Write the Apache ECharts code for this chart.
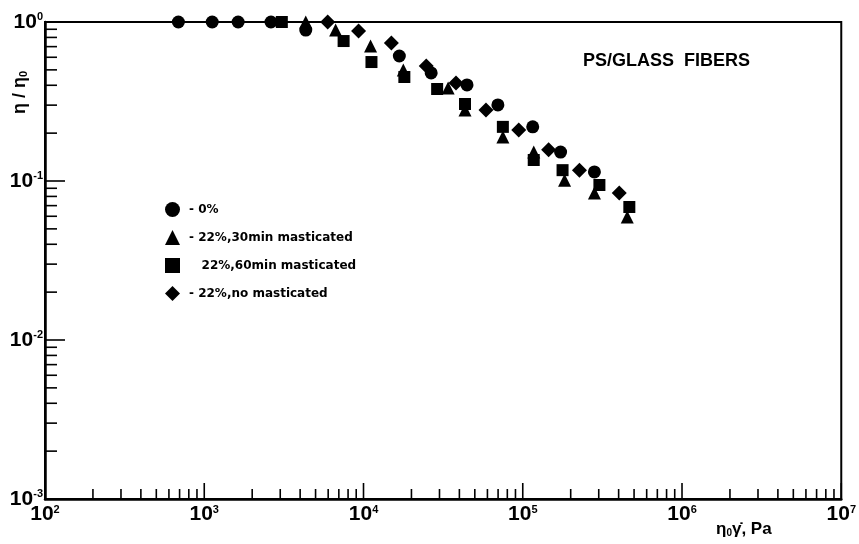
<!DOCTYPE html>
<html>
<head>
<meta charset="utf-8">
<script src="https://cdn.jsdelivr.net/npm/echarts@6/dist/echarts.min.js"></script>
<style>
  html, body { margin: 0; padding: 0; background: #fff; }
  #chart { width: 859px; height: 544px; }
</style>
</head>
<body>
<div id="chart"></div>
<script>
// Shear stress eta0*gammadot (Pa) vs reduced viscosity eta/eta0
const seriesNames = ['0%', '22%,30min masticated', '22%,60min masticated', '22%,no masticated'];
const legendLabels = ['- 0%', '- 22%,30min masticated', '   22%,60min masticated', '- 22%,no masticated'];

const data0 = [[688, 1.0], [1122, 1.0], [1632, 1.0], [2624, 1.0], [4340, 0.89], [16790, 0.611],
  [26600, 0.478], [44670, 0.402], [69800, 0.301], [115500, 0.219], [172800, 0.152], [281800, 0.114]];
const data30 = [[4340, 1.0], [6680, 0.89], [11070, 0.706], [17780, 0.499], [33980, 0.385], [43400, 0.280],
  [75000, 0.189], [117200, 0.152], [183000, 0.101], [281800, 0.084], [453000, 0.0594]];
const data60 = [[3070, 1.0], [7500, 0.759], [11220, 0.56], [18050, 0.451], [29000, 0.379], [43400, 0.305],
  [75000, 0.219], [117200, 0.1355], [177800, 0.117], [302900, 0.0944], [466900, 0.0686]];
const dataNo = [[5960, 1.0], [9310, 0.878], [14960, 0.738], [24770, 0.529], [38100, 0.413], [58750, 0.280],
  [94400, 0.209], [145400, 0.157], [227000, 0.117], [403700, 0.084]];

// Axis ranges and tick structure (log decades and their 2..9 subdivisions)
const xDecades = [100, 1000, 10000, 100000, 1000000, 10000000];
const yDecades = [0.001, 0.01, 0.1, 1];
const mantissas = [2, 3, 4, 5, 6, 7, 8, 9];

const FONT = '"Liberation Sans", Arial, sans-serif';
const LEGEND_FONT = '"DejaVu Sans", sans-serif';

// tick items: [x, y, length]
const xTicks = [];
xDecades.forEach(function (d, i) {
  xTicks.push([d, yDecades[0], 16]);
  if (i < xDecades.length - 1) mantissas.forEach(function (m) { xTicks.push([d * m, yDecades[0], 10]); });
});
const yTicks = [];
yDecades.forEach(function (d, i) {
  yTicks.push([xDecades[0], d, 20]);
  if (i < yDecades.length - 1) mantissas.forEach(function (m) { yTicks.push([xDecades[0], d * m, 12]); });
});

function powLabel(v) {
  const e = Math.round(Math.log10(v));
  return '{b|10}{s|' + e + '}';
}
const labelRich = {
  b: { fontSize: 21, fontWeight: 'bold', fontFamily: FONT, color: '#000' },
  s: { fontSize: 11, fontWeight: 'bold', fontFamily: FONT, color: '#000', verticalAlign: 'top' }
};

const chart = echarts.init(document.getElementById('chart'), null, { renderer: 'canvas' });

function scatter(name, data, symbol, size) {
  return {
    name: name, type: 'scatter', data: data, symbol: symbol, symbolSize: size,
    itemStyle: { color: '#000', opacity: 1 }, emphasis: { disabled: true }, z: 3
  };
}

chart.setOption({
  animation: false,
  backgroundColor: '#fff',
  title: {
    text: 'PS/GLASS  FIBERS', left: 578, top: 47,
    textStyle: { fontSize: 18, fontWeight: 'bold', fontFamily: FONT, color: '#000' }
  },
  grid: { left: 45, right: 14, top: 22, bottom: 45, show: true, borderColor: '#000', borderWidth: 2, containLabel: false },
  xAxis: {
    type: 'log', logBase: 10, min: xDecades[0], max: xDecades[xDecades.length - 1],
    axisLine: { show: true, onZero: false, lineStyle: { color: '#000', width: 2.5 } },
    axisTick: { show: false }, splitLine: { show: false }, minorTick: { show: false },
    axisLabel: { margin: 5, formatter: powLabel, rich: labelRich }
  },
  yAxis: {
    type: 'log', logBase: 10, min: yDecades[0], max: yDecades[yDecades.length - 1],
    axisLine: { show: true, onZero: false, lineStyle: { color: '#000', width: 2.5 } },
    axisTick: { show: false }, splitLine: { show: false }, minorTick: { show: false },
    axisLabel: { margin: 2, formatter: powLabel, rich: labelRich }
  },
  legend: {
    orient: 'vertical', left: 160, top: 197, itemGap: 13, itemWidth: 15, itemHeight: 15,
    data: seriesNames,
    itemStyle: { color: '#000', opacity: 1 },
    formatter: function (n) { return legendLabels[seriesNames.indexOf(n)]; },
    textStyle: { fontSize: 12, fontWeight: 'bold', fontFamily: LEGEND_FONT, color: '#000', padding: [0, 0, 0, 4] },
    selectedMode: false
  },
  graphic: [
    {
      type: 'text', left: 716, top: 521,
      style: {
        text: '{a|η}{sub|0}{a|γ̇, Pa}',
        rich: {
          a: { fontSize: 17, fontWeight: 'bold', fontFamily: FONT, fill: '#000' },
          sub: { fontSize: 10, fontWeight: 'bold', fontFamily: FONT, fill: '#000', verticalAlign: 'bottom' }
        }
      }
    },
    {
      type: 'text', x: 11, y: 114, rotation: Math.PI / 2,
      style: {
        text: '{a|η / η}{sub|0}',
        rich: {
          a: { fontSize: 18, fontWeight: 'bold', fontFamily: FONT, fill: '#000' },
          sub: { fontSize: 11, fontWeight: 'bold', fontFamily: FONT, fill: '#000', verticalAlign: 'bottom' }
        }
      }
    }
  ],
  series: [
    scatter(seriesNames[0], data0, 'circle', 13),
    scatter(seriesNames[1], data30, 'triangle', 13),
    scatter(seriesNames[2], data60, 'rect', 12),
    scatter(seriesNames[3], dataNo, 'diamond', 15),
    {
      // log-axis tick marks drawn inward from the left and bottom axis lines
      type: 'custom', clip: false, silent: true, z: 4,
      data: xTicks.concat(yTicks),
      encode: { x: 0, y: 1 },
      renderItem: function (params, api) {
        const x = api.value(0), y = api.value(1), len = api.value(2);
        const p = api.coord([x, y]);
        let shape;
        if (y === yDecades[0] && x !== xDecades[0]) {
          shape = { x1: p[0], y1: p[1], x2: p[0], y2: p[1] - len };
        } else if (x === xDecades[0] && y !== yDecades[0]) {
          shape = { x1: p[0], y1: p[1], x2: p[0] + len, y2: p[1] };
        } else {
          return null;
        }
        return { type: 'line', shape: shape, style: { stroke: '#000', lineWidth: 1.6 } };
      }
    }
  ]
});
</script>
</body>
</html>
